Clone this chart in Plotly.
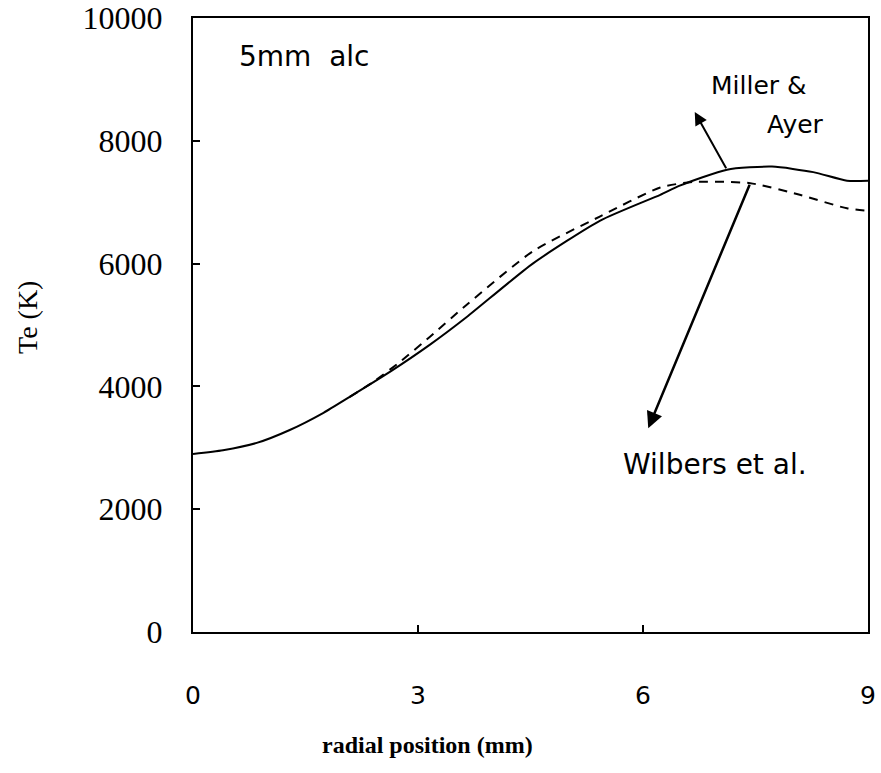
import plotly.graph_objects as go

# Miller & Ayer (solid)
x_solid = [0.0, 0.4, 0.85, 1.29, 1.74, 2.09, 2.63, 3.16, 3.65, 4.53, 5.43, 6.23, 6.49, 7.12, 7.72, 8.27, 8.72, 9.0]
te_solid = [2900, 2960, 3080, 3290, 3570, 3830, 4240, 4680, 5130, 6000, 6700, 7120, 7270, 7530, 7580, 7490, 7350, 7350]

# Wilbers et al. (dashed)
x_dash = [2.09, 2.4, 2.76, 3.16, 3.65, 4.53, 5.43, 6.23, 6.67, 7.43, 8.09, 8.72, 9.0]
te_dash = [3830, 4070, 4400, 4810, 5330, 6200, 6770, 7240, 7330, 7310, 7120, 6900, 6860]

x_ticks = [0, 3, 6, 9]
y_ticks = [0, 2000, 4000, 6000, 8000, 10000]

fig = go.Figure()
fig.add_trace(go.Scatter(x=x_solid, y=te_solid, mode="lines", line=dict(color="black", width=2, shape="spline", smoothing=0.6),
                         showlegend=False, hoverinfo="skip"))
fig.add_trace(go.Scatter(x=x_dash, y=te_dash, mode="lines", line=dict(color="black", width=2, dash="9px,7px", shape="spline", smoothing=0.6),
                         showlegend=False, hoverinfo="skip"))

hand = dict(family="DejaVu Sans", color="black")
serif = "Liberation Serif"

fig.add_annotation(x=1.49, y=9370, text="5mm  alc", showarrow=False, font=dict(size=28, **hand))
fig.add_annotation(x=7.55, y=8895, text="Miller &", showarrow=False, font=dict(size=25, **hand))
fig.add_annotation(x=8.03, y=8260, text="Ayer", showarrow=False, font=dict(size=25, **hand))
fig.add_annotation(x=6.96, y=2720, text="Wilbers et al.", showarrow=False, font=dict(size=28, **hand))

# arrows
fig.add_annotation(x=6.69, y=8470, ax=7.12, ay=7530, axref="x", ayref="y", xref="x", yref="y", text="",
                   showarrow=True, arrowhead=2, arrowsize=1.3, arrowwidth=2, arrowcolor="black")
fig.add_annotation(x=6.07, y=3320, ax=7.43, ay=7310, axref="x", ayref="y", xref="x", yref="y", text="",
                   showarrow=True, arrowhead=2, arrowsize=1.3, arrowwidth=2.5, arrowcolor="black")

# axis titles (pixel positions converted to paper fractions)
L, R, T, B, W, H = 193, 13, 18, 141, 881, 773
pw, ph = W - L - R, H - T - B

def px(x):
    return (x - L) / pw

def py(y):
    return (H - B - y) / ph

fig.add_annotation(x=px(427), y=py(745), xref="paper", yref="paper", text="<b>radial position (mm)</b>", showarrow=False,
                   xanchor="center", yanchor="middle", font=dict(family=serif, size=24, color="black"))
fig.add_annotation(x=px(27), y=py(318), xref="paper", yref="paper", text="Te (K)", showarrow=False, textangle=-90,
                   xanchor="center", yanchor="middle", font=dict(family=serif, size=28, color="black"))

fig.update_layout(
    width=W, height=H,
    margin=dict(l=L, r=R, t=T, b=B),
    paper_bgcolor="white", plot_bgcolor="white",
    xaxis=dict(range=[0, 9], tickvals=x_ticks, ticktext=[str(v) for v in x_ticks], ticks="inside", ticklen=7,
               tickwidth=2, tickcolor="black", showline=True, linecolor="black", linewidth=2, mirror=True,
               showgrid=False, zeroline=False, ticklabelstandoff=40, automargin=False,
               tickfont=dict(family="DejaVu Sans", size=25, color="black")),
    yaxis=dict(range=[0, 10000], tickvals=y_ticks, ticktext=[str(v) for v in y_ticks], ticks="inside", ticklen=7,
               tickwidth=2, tickcolor="black", showline=True, linecolor="black", linewidth=2, mirror=True,
               showgrid=False, zeroline=False, ticklabelstandoff=22, automargin=False,
               tickfont=dict(family=serif, size=32, color="black")),
)

fig.write_html("out.html")
